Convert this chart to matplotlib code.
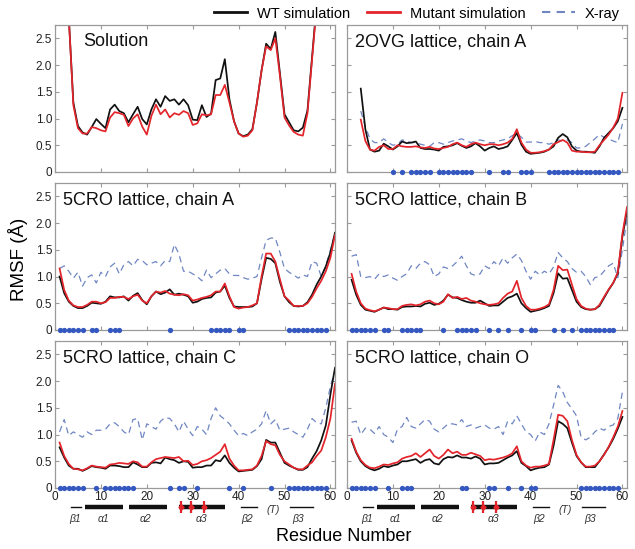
import matplotlib.pyplot as plt
import numpy as np
from matplotlib.lines import Line2D

plt.rcParams['font.family'] = ['Liberation Sans', 'DejaVu Sans']

# ---------------- data ----------------
res_all = np.arange(1, 62)      # residues 1..61
res_o = np.arange(1, 61)        # chain O: 1..60
res_ovg = np.arange(3, 61)      # 2OVG: 3..60
res_sol = np.arange(2, 58)      # solution (ends run off the top)

sol_wt = [4.2, 2.9, 1.30, 0.86, 0.74, 0.70, 0.84, 0.99, 0.90, 0.82,
          1.17, 1.26, 1.14, 1.10, 0.93, 1.08, 1.22, 0.99, 0.89, 1.17,
          1.36, 1.22, 1.42, 1.33, 1.36, 1.26, 1.36, 1.25, 0.98, 0.97,
          1.25, 1.03, 1.09, 1.72, 1.75, 2.11, 1.36, 0.95, 0.72, 0.67,
          0.70, 0.80, 1.30, 1.90, 2.40, 2.30, 2.62, 1.85, 1.08, 0.93,
          0.78, 0.76, 0.83, 1.15, 2.15, 3.15]
sol_mut = [4.0, 2.9, 1.25, 0.82, 0.72, 0.72, 0.84, 0.82, 0.78, 0.76,
           1.02, 1.12, 1.10, 1.07, 0.86, 1.00, 1.08, 0.85, 0.70, 1.05,
           1.26, 1.08, 1.17, 1.02, 1.10, 1.07, 1.14, 1.10, 0.88, 0.91,
           1.08, 1.06, 1.08, 1.44, 1.44, 1.63, 1.30, 0.95, 0.72, 0.66,
           0.68, 0.78, 1.30, 1.90, 2.35, 2.28, 2.50, 1.80, 1.02, 0.87,
           0.75, 0.70, 0.68, 1.10, 2.10, 3.10]

ovg_wt = [1.56, 0.80, 0.42, 0.38, 0.40, 0.53, 0.48, 0.42, 0.48, 0.57,
          0.54, 0.55, 0.57, 0.45, 0.43, 0.43, 0.42, 0.40, 0.47, 0.48,
          0.50, 0.54, 0.49, 0.45, 0.48, 0.54, 0.48, 0.40, 0.45, 0.48,
          0.43, 0.45, 0.48, 0.60, 0.73, 0.51, 0.38, 0.34, 0.35, 0.36,
          0.38, 0.42, 0.48, 0.64, 0.71, 0.65, 0.48, 0.40, 0.38, 0.38,
          0.37, 0.36, 0.48, 0.64, 0.73, 0.82, 0.95, 1.20]
ovg_mut = [0.98, 0.58, 0.42, 0.40, 0.47, 0.50, 0.43, 0.43, 0.50, 0.48,
           0.47, 0.47, 0.48, 0.46, 0.45, 0.47, 0.44, 0.43, 0.45, 0.47,
           0.52, 0.55, 0.50, 0.47, 0.52, 0.55, 0.52, 0.50, 0.52, 0.52,
           0.50, 0.52, 0.55, 0.62, 0.80, 0.55, 0.42, 0.36, 0.36, 0.37,
           0.39, 0.42, 0.52, 0.56, 0.60, 0.55, 0.40, 0.38, 0.38, 0.37,
           0.37, 0.38, 0.50, 0.60, 0.70, 0.83, 1.00, 1.48]
ovg_xray = [1.14, 0.85, 0.62, 0.55, 0.55, 0.62, 0.55, 0.50, 0.52, 0.60,
            0.58, 0.55, 0.55, 0.52, 0.50, 0.48, 0.55, 0.55, 0.52, 0.55,
            0.58, 0.60, 0.62, 0.58, 0.55, 0.58, 0.60, 0.58, 0.55, 0.55,
            0.58, 0.60, 0.62, 0.68, 0.72, 0.65, 0.56, 0.56, 0.57, 0.55,
            0.55, 0.52, 0.55, 0.60, 0.58, 0.60, 0.55, 0.45, 0.45, 0.48,
            0.55, 0.62, 0.70, 0.65, 0.62, 0.58, 0.55, 0.90]
ovg_dots = [10, 12, 14, 15, 16, 17, 18, 20, 21, 22, 23, 24, 25, 26, 27,
            31, 34, 35, 38, 39, 40, 44, 45, 46, 47, 48, 49, 50, 51, 52,
            53, 54, 55, 56, 57, 58, 59]

a_wt = [1.00, 0.69, 0.53, 0.45, 0.41, 0.41, 0.45, 0.51, 0.50, 0.49,
        0.53, 0.63, 0.61, 0.61, 0.63, 0.55, 0.64, 0.69, 0.56, 0.48,
        0.63, 0.72, 0.67, 0.70, 0.76, 0.66, 0.68, 0.66, 0.63, 0.51,
        0.53, 0.58, 0.60, 0.61, 0.70, 0.72, 0.83, 0.60, 0.44, 0.43,
        0.43, 0.43, 0.44, 0.50, 0.95, 1.35, 1.33, 1.25, 0.90, 0.63,
        0.52, 0.45, 0.44, 0.45, 0.52, 0.66, 0.85, 1.00, 1.19, 1.45, 1.82]
a_mut = [1.15, 0.75, 0.55, 0.46, 0.43, 0.43, 0.47, 0.53, 0.53, 0.50,
         0.52, 0.60, 0.60, 0.62, 0.62, 0.58, 0.63, 0.66, 0.55, 0.50,
         0.63, 0.72, 0.70, 0.73, 0.68, 0.66, 0.65, 0.67, 0.65, 0.55,
         0.57, 0.60, 0.62, 0.65, 0.72, 0.72, 0.87, 0.63, 0.43, 0.40,
         0.42, 0.43, 0.46, 0.50, 1.00, 1.43, 1.43, 1.28, 0.95, 0.63,
         0.55, 0.45, 0.45, 0.45, 0.50, 0.62, 0.78, 0.92, 1.10, 1.35, 1.78]
a_xray = [1.15, 1.20, 1.10, 0.97, 1.08, 0.82, 0.98, 1.03, 0.88, 1.08,
          1.00, 1.18, 1.25, 1.05, 1.22, 1.28, 1.20, 1.32, 1.30, 1.22,
          1.25, 1.28, 1.20, 1.30, 1.28, 1.60, 1.42, 1.10, 1.10, 1.05,
          1.00, 0.92, 1.12, 0.98, 1.05, 1.12, 1.15, 1.05, 1.02, 1.02,
          0.98, 0.95, 0.97, 1.00, 1.35, 1.68, 1.72, 1.72, 1.45, 1.15,
          1.08, 1.03, 0.97, 1.03, 1.00, 1.28, 1.25, 1.00, 1.20, 1.50, 1.80]
a_dots = [1, 2, 3, 4, 5, 6, 8, 9, 12, 13, 14, 25, 34, 35, 36, 37, 38,
          40, 41, 51, 52, 53, 54, 55, 56, 57, 58, 59]

b_wt = [0.94, 0.66, 0.47, 0.38, 0.36, 0.34, 0.38, 0.42, 0.39, 0.39,
        0.38, 0.43, 0.44, 0.44, 0.45, 0.44, 0.49, 0.51, 0.47, 0.49,
        0.55, 0.66, 0.61, 0.60, 0.56, 0.53, 0.51, 0.51, 0.55, 0.50,
        0.45, 0.46, 0.46, 0.53, 0.60, 0.63, 0.68, 0.50, 0.41, 0.34,
        0.36, 0.38, 0.41, 0.45, 0.69, 1.06, 0.96, 0.97, 0.75, 0.53,
        0.43, 0.39, 0.38, 0.39, 0.45, 0.60, 0.75, 0.88, 1.06, 1.75, 2.22]
b_mut = [1.05, 0.72, 0.50, 0.40, 0.37, 0.35, 0.38, 0.42, 0.41, 0.39,
         0.39, 0.45, 0.47, 0.48, 0.46, 0.48, 0.53, 0.55, 0.50, 0.48,
         0.53, 0.67, 0.60, 0.62, 0.58, 0.60, 0.55, 0.53, 0.50, 0.48,
         0.47, 0.48, 0.50, 0.60, 0.68, 0.72, 0.92, 0.60, 0.45, 0.38,
         0.38, 0.40, 0.43, 0.48, 0.75, 1.20, 1.12, 1.13, 0.85, 0.58,
         0.45, 0.40, 0.38, 0.39, 0.47, 0.62, 0.76, 0.88, 1.08, 1.80, 2.30]
b_xray = [1.38, 1.41, 1.00, 0.98, 1.00, 0.95, 1.05, 1.00, 1.03, 0.97,
          0.93, 1.00, 1.05, 1.20, 1.15, 1.25, 1.28, 1.22, 1.00, 1.05,
          1.18, 1.15, 1.20, 1.28, 1.38, 1.20, 1.05, 1.02, 1.05, 1.20,
          1.15, 1.28, 1.20, 1.35, 1.25, 1.35, 1.42, 1.30, 1.10, 0.95,
          1.10, 1.03, 1.10, 1.05, 1.18, 1.45, 1.35, 1.28, 1.15, 1.08,
          1.10, 1.00, 0.85, 0.98, 1.00, 1.10, 1.20, 1.25, 0.98, 1.50, 2.10]
b_dots = [1, 2, 3, 4, 5, 6, 8, 9, 12, 13, 14, 15, 16, 21, 24, 25, 26, 27,
          28, 31, 33, 35, 38, 40, 41, 45, 47, 49, 51, 52, 53, 54, 55, 56,
          57, 58]

c_wt = [0.76, 0.57, 0.42, 0.36, 0.36, 0.32, 0.36, 0.41, 0.39, 0.38,
        0.36, 0.42, 0.42, 0.41, 0.39, 0.39, 0.48, 0.44, 0.39, 0.39,
        0.47, 0.48, 0.46, 0.57, 0.54, 0.52, 0.47, 0.50, 0.49, 0.38,
        0.39, 0.39, 0.42, 0.42, 0.52, 0.50, 0.61, 0.47, 0.38, 0.31,
        0.32, 0.33, 0.34, 0.41, 0.54, 0.90, 0.85, 0.85, 0.66, 0.47,
        0.42, 0.38, 0.34, 0.34, 0.39, 0.55, 0.69, 0.89, 1.17, 1.75, 2.25]
c_mut = [0.85, 0.60, 0.45, 0.36, 0.35, 0.33, 0.37, 0.42, 0.40, 0.39,
         0.38, 0.44, 0.45, 0.47, 0.46, 0.45, 0.50, 0.48, 0.40, 0.40,
         0.48, 0.54, 0.56, 0.58, 0.57, 0.56, 0.58, 0.50, 0.51, 0.43,
         0.45, 0.50, 0.52, 0.56, 0.62, 0.68, 0.82, 0.55, 0.42, 0.33,
         0.33, 0.34, 0.35, 0.42, 0.60, 0.88, 0.82, 0.80, 0.62, 0.50,
         0.44, 0.38, 0.35, 0.35, 0.42, 0.48, 0.60, 0.70, 0.95, 1.30, 1.95]
c_xray = [1.05, 1.28, 0.98, 1.05, 1.00, 0.95, 1.05, 1.00, 1.08, 1.08,
          1.10, 1.20, 1.22, 1.15, 1.05, 1.00, 1.28, 1.30, 0.90, 1.20,
          1.15, 1.10, 1.25, 1.32, 1.30, 1.20, 1.05, 1.25, 1.10, 0.98,
          1.15, 1.10, 1.00, 1.30, 1.50, 1.35, 1.28, 1.20, 1.08, 0.98,
          1.02, 0.98, 1.05, 1.10, 1.20, 1.45, 1.20, 1.28, 1.08, 1.10,
          1.12, 1.05, 1.00, 0.95, 1.10, 1.30, 1.22, 1.20, 1.50, 1.90, 2.20]
c_dots = [1, 2, 3, 4, 5, 6, 9, 11, 12, 13, 14, 15, 16, 17, 25, 27, 28,
          31, 38, 41, 47, 51, 52, 53, 54, 55, 56, 57, 58, 59]

o_wt = [0.89, 0.66, 0.50, 0.41, 0.36, 0.33, 0.36, 0.41, 0.39, 0.42,
        0.44, 0.50, 0.50, 0.52, 0.54, 0.47, 0.52, 0.54, 0.46, 0.44,
        0.54, 0.58, 0.57, 0.61, 0.57, 0.57, 0.55, 0.59, 0.55, 0.44,
        0.46, 0.46, 0.47, 0.52, 0.57, 0.61, 0.69, 0.47, 0.41, 0.33,
        0.36, 0.38, 0.39, 0.44, 0.79, 1.25, 1.20, 1.12, 0.85, 0.60,
        0.48, 0.39, 0.39, 0.39, 0.50, 0.63, 0.76, 0.92, 1.11, 1.33]
o_mut = [0.92, 0.68, 0.52, 0.43, 0.38, 0.37, 0.40, 0.44, 0.43, 0.46,
         0.48, 0.55, 0.58, 0.60, 0.65, 0.58, 0.65, 0.72, 0.60, 0.55,
         0.62, 0.72, 0.65, 0.68, 0.62, 0.62, 0.66, 0.63, 0.60, 0.52,
         0.54, 0.53, 0.55, 0.57, 0.60, 0.65, 0.78, 0.50, 0.42, 0.38,
         0.40, 0.40, 0.42, 0.45, 0.90, 1.37, 1.35, 1.25, 0.90, 0.62,
         0.48, 0.40, 0.40, 0.42, 0.50, 0.62, 0.77, 0.95, 1.15, 1.44]
o_xray = [1.23, 1.25, 1.00, 1.12, 1.10, 1.02, 1.15, 1.00, 0.95, 0.85,
          1.10, 1.15, 1.32, 1.15, 1.12, 1.20, 1.28, 1.25, 1.10, 1.05,
          1.12, 1.20, 1.20, 1.18, 1.28, 1.15, 1.18, 1.12, 1.15, 1.18,
          1.12, 1.10, 1.15, 1.00, 1.25, 1.20, 1.35, 1.20, 1.05, 1.00,
          0.88, 1.05, 1.00, 1.20, 1.55, 1.92, 1.80, 1.60, 1.48, 1.35,
          0.95, 0.90, 0.95, 1.05, 1.12, 1.08, 1.15, 1.18, 1.30, 1.80]
o_dots = [1, 2, 3, 4, 5, 6, 9, 12, 13, 14, 25, 26, 31, 32, 35, 38, 40,
          41, 51, 52, 53, 54, 55, 56, 57, 58, 59]

# secondary structure along the residue axis
strand_spans = [(3.4, 5.6), (40.5, 44.0), (51.3, 56.2)]
strand_names = ['β1', 'β2', 'β3']
strand_label_x = [4.4, 41.8, 53.0]
helix_spans = [(6.6, 14.9), (16.2, 24.4), (27.1, 37.0)]
helix_names = ['α1', 'α2', 'α3']
helix_label_x = [10.6, 19.6, 32.0]
mutation_sites = [27.4, 29.6, 32.5]
turn_x = 47.6

yticks = [0, 0.5, 1.0, 1.5, 2.0, 2.5]
ytick_labels = ['0', '0.5', '1.0', '1.5', '2.0', '2.5']
xticks = [0, 10, 20, 30, 40, 50, 60]

# ---------------- style ----------------
WT = '#111111'
MUT = '#e3242b'
XRAY = '#6f86c2'
DOT = '#3558c0'
FRAME = '#9a9a9a'

fig = plt.figure(figsize=(6.35, 5.49), dpi=100)

W = 280 / 635
H = 147 / 549
lefts = [55 / 635, 347 / 635]
bottoms = [1 - 172 / 549, 1 - 330 / 549, 1 - 488 / 549]

panels = [
    ('Solution', res_sol, sol_wt, sol_mut, None, None, None),
    ('2OVG lattice, chain A', res_ovg, ovg_wt, ovg_mut, res_ovg, ovg_xray, ovg_dots),
    ('5CRO lattice, chain A', res_all, a_wt, a_mut, res_all, a_xray, a_dots),
    ('5CRO lattice, chain B', res_all, b_wt, b_mut, res_all, b_xray, b_dots),
    ('5CRO lattice, chain C', res_all, c_wt, c_mut, res_all, c_xray, c_dots),
    ('5CRO lattice, chain O', res_o, o_wt, o_mut, res_o, o_xray, o_dots),
]

for i, (title, xr, wt, mut, xx, xray, dots) in enumerate(panels):
    row, col = divmod(i, 2)
    ax = fig.add_axes([lefts[col], bottoms[row], W, H])

    if xray is not None:
        ax.plot(xx, xray, color=XRAY, lw=0.9, dashes=(5, 3.5))
    ax.plot(xr, wt, color=WT, lw=1.25)
    ax.plot(xr, mut, color=MUT, lw=1.25)
    if dots is not None:
        ax.plot(dots, [0] * len(dots), 'o', color=DOT, ms=3.8,
                mec='none', clip_on=False, zorder=5)

    ax.set_xlim(0, 61)
    ax.set_ylim(0, 2.75)
    ax.set_xticks(xticks)
    ax.set_yticks(yticks)
    ax.tick_params(direction='in', length=3, width=0.8, color=FRAME,
                   top=True, right=True, labelsize=8.5, pad=2,
                   labelcolor='#222222')
    if col == 0:
        ax.set_yticklabels(ytick_labels)
    else:
        ax.set_yticklabels([])
    if row < 2:
        ax.set_xticklabels([])
    for sp in ax.spines.values():
        sp.set_color(FRAME)
        sp.set_linewidth(0.9)

    tx = 0.1 if title == 'Solution' else 0.03
    ax.text(tx, 0.885, title, transform=ax.transAxes, fontsize=13,
            va='center', ha='left', color='#111111')

    # secondary-structure strip under the bottom panels
    if row == 2:
        tr = ax.get_xaxis_transform()
        y_line = -0.131
        y_lab = -0.21
        for (s, e), name, lx in zip(strand_spans, strand_names, strand_label_x):
            ax.plot([s, e], [y_line, y_line], color='#111111', lw=1.0,
                    transform=tr, clip_on=False)
            ax.text(lx, y_lab, name, transform=tr, fontsize=7.5,
                    style='italic', ha='center', va='center', color='#333333')
        for (s, e), name, lx in zip(helix_spans, helix_names, helix_label_x):
            ax.plot([s, e], [y_line, y_line], color='#111111', lw=3.2,
                    transform=tr, clip_on=False, solid_capstyle='butt')
            ax.text(lx, y_lab, name, transform=tr, fontsize=7.5,
                    style='italic', ha='center', va='center', color='#333333')
        ax.plot(mutation_sites, [y_line] * len(mutation_sites), '|',
                color=MUT, ms=8, mew=1.6, transform=tr, clip_on=False)
        ax.plot(mutation_sites, [y_line] * len(mutation_sites), 'D',
                color=MUT, ms=2.6, transform=tr, clip_on=False)
        ax.text(turn_x, -0.15, '(T)', transform=tr, fontsize=7.5,
                style='italic', ha='center', va='center', color='#333333')

fig.text(0.028, 0.527, 'RMSF (Å)', rotation=90, fontsize=13.5,
         ha='center', va='center')
fig.text(0.542, 0.022, 'Residue Number', fontsize=13,
         ha='center', va='center')

handles = [Line2D([], [], color=WT, lw=2),
           Line2D([], [], color=MUT, lw=2),
           Line2D([], [], color=XRAY, lw=1.5, dashes=(4, 3))]
fig.legend(handles, ['WT simulation', 'Mutant simulation', 'X-ray'],
           loc='upper right', bbox_to_anchor=(0.997, 1.012), ncol=3,
           frameon=False, fontsize=10.5, handlelength=2.3,
           columnspacing=1.15, handletextpad=0.65)

plt.savefig('out.png', dpi=100)
